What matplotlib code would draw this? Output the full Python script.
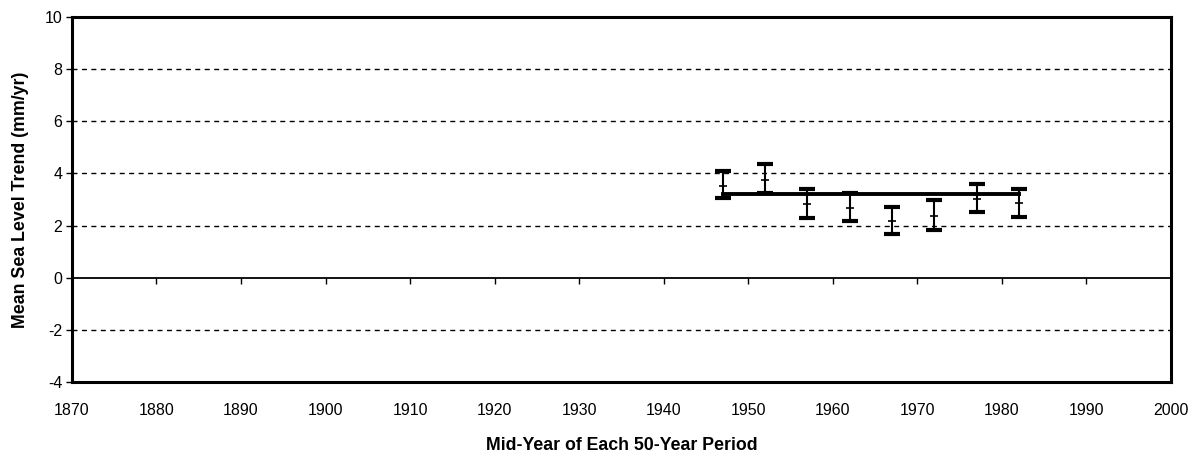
import numpy as np
import matplotlib.pyplot as plt

# mid-year of each 50-year period and the trend (mm/yr) with its error bars
years = [1947, 1952, 1957, 1962, 1967, 1972, 1977, 1982]
trend = [3.52, 3.75, 2.81, 2.69, 2.19, 2.38, 3.02, 2.88]
upper = [4.10, 4.35, 3.40, 3.26, 2.72, 2.98, 3.59, 3.40]
lower = [3.05, 3.24, 2.28, 2.16, 1.66, 1.83, 2.53, 2.34]
mean_trend = 3.20

xticks = list(range(1870, 2001, 10))
yticks = [-4, -2, 0, 2, 4, 6, 8, 10]

plt.rcParams['font.family'] = ['Liberation Sans', 'DejaVu Sans']
plt.rcParams['axes.unicode_minus'] = False

fig = plt.figure(figsize=(11.99, 4.58), dpi=100)
ax = fig.add_axes([0.060, 0.166, 0.9166, 0.797])

ax.set_xlim(1870, 2000)
ax.set_ylim(-4, 10)

# dashed gridlines
for y in yticks:
    if y not in (-4, 0, 10):
        ax.axhline(y, color='black', lw=1.0, ls=(0, (3.6, 3.2)), zorder=1)

# overall mean line
ax.plot([years[0], years[-1]], [mean_trend, mean_trend], color='black', lw=2.8, zorder=3)

# error bars: whiskers and caps
yerr = [np.array(trend) - np.array(lower), np.array(upper) - np.array(trend)]
ax.errorbar(years, trend, yerr=yerr, fmt='none', ecolor='black', elinewidth=1.5,
            capsize=6, capthick=3, zorder=4)
# small tick at the mean value
ax.plot(years, trend, ls='none', marker='_', ms=6, mew=1.2, color='black', zorder=5)

# x axis crosses at zero, labels at the bottom of the frame
ax.spines['bottom'].set_position(('data', 0))
ax.spines['bottom'].set_linewidth(1.3)
for s in ['top', 'left', 'right']:
    ax.spines[s].set_linewidth(2.2)
ax.set_xticks(xticks)
ax.tick_params(axis='x', direction='out', length=4, width=1, labelbottom=False)

sec = ax.secondary_xaxis(0)
sec.set_xticks(xticks)
sec.spines['bottom'].set_linewidth(2.2)
sec.tick_params(axis='x', length=0, pad=15, labelsize=11.5)

ax.set_yticks(yticks)
ax.tick_params(axis='y', direction='out', length=4, width=1, labelsize=11.5, pad=3)

ax.set_ylabel('Mean Sea Level Trend (mm/yr)', fontsize=12.8, fontweight='bold', labelpad=11)
sec.set_xlabel('Mid-Year of Each 50-Year Period', fontsize=12.8, fontweight='bold', labelpad=14)

fig.savefig('out.png', dpi=100)
